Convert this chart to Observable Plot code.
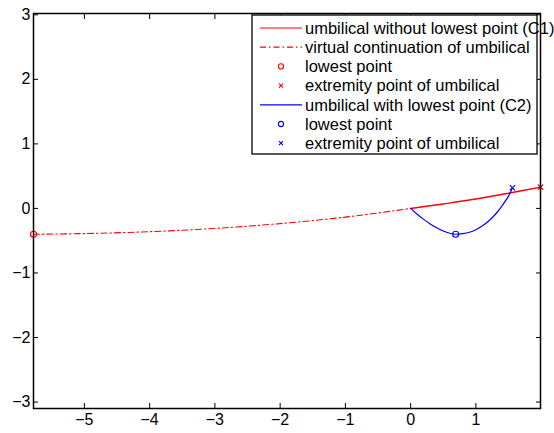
<!DOCTYPE html>
<html>
<head>
<meta charset="utf-8">
<script src="https://cdn.jsdelivr.net/npm/d3@7"></script>
<script src="https://cdn.jsdelivr.net/npm/@observablehq/plot@0.6"></script>
<style>
  html, body { margin: 0; padding: 0; background: white; }
</style>
</head>
<body>
<div id="chart"></div>
<script>
// ---- data ----
const xTicks = [-5, -4, -3, -2, -1, 0, 1];
const yTicks = [-3, -2, -1, 0, 1, 2, 3];

// C1: umbilical without lowest point (solid red)
const c1X = [0, 0.5, 1, 1.5, 1.99];
const c1Y = [0, 0.07, 0.145, 0.235, 0.33];
// virtual continuation of umbilical (dash-dot red)
const virtX = [-5.78, -5, -4, -3, -2, -1, -0.5, 0];
const virtY = [-0.40, -0.39, -0.36, -0.31, -0.235, -0.135, -0.07, 0];
// C1 markers
const c1LowX = [-5.78], c1LowY = [-0.40];
const c1ExtX = [1.99], c1ExtY = [0.33];

// C2: umbilical with lowest point (blue)
const c2X = [0, 0.1, 0.2, 0.3, 0.4, 0.5, 0.6, 0.69, 0.8, 0.9, 1.0, 1.1, 1.2, 1.3, 1.4, 1.5, 1.56];
const c2Y = [0, -0.09, -0.17, -0.24, -0.3, -0.35, -0.385, -0.40, -0.39, -0.37, -0.33, -0.27, -0.19, -0.09, 0.04, 0.19, 0.32];
const c2LowX = [0.69], c2LowY = [-0.40];
const c2ExtX = [1.56], c2ExtY = [0.32];

const legendLabels = [
  "umbilical without lowest point (C1)",
  "virtual continuation of umbilical",
  "lowest point",
  "extremity point of umbilical",
  "umbilical with lowest point (C2)",
  "lowest point",
  "extremity point of umbilical"
];

const RED = "#ff0000", BLUE = "#0000ff";
const zip = (xs, ys) => xs.map((x, i) => ({x, y: ys[i]}));
const fmt = d => String(d).replace("-", "\u2212");

const plot = Plot.plot({
  width: 554,
  height: 433,
  marginLeft: 33,
  marginRight: 14,
  marginTop: 13,
  marginBottom: 25,
  style: {fontFamily: "'Liberation Sans', Arial, sans-serif", fontSize: "16px", background: "white", color: "black"},
  x: {domain: [-5.78, 1.99], label: null},
  y: {domain: [-3.1, 3.02], label: null},
  marks: [
    Plot.line(zip(virtX, virtY), {x: "x", y: "y", stroke: RED, strokeWidth: 1.1, strokeDasharray: "6,3,1.5,3", curve: "catmull-rom"}),
    Plot.line(zip(c1X, c1Y), {x: "x", y: "y", stroke: RED, strokeWidth: 1.5, curve: "catmull-rom"}),
    Plot.line(zip(c2X, c2Y), {x: "x", y: "y", stroke: BLUE, strokeWidth: 1.2, curve: "catmull-rom"}),
    Plot.dot(zip(c1LowX, c1LowY), {x: "x", y: "y", r: 3, stroke: RED, fill: "none", strokeWidth: 1.2}),
    Plot.dot(zip(c1ExtX, c1ExtY), {x: "x", y: "y", r: 2.5, symbol: "times", stroke: RED, strokeWidth: 1.2}),
    Plot.dot(zip(c2LowX, c2LowY), {x: "x", y: "y", r: 3, stroke: BLUE, fill: "none", strokeWidth: 1.2}),
    Plot.dot(zip(c2ExtX, c2ExtY), {x: "x", y: "y", r: 2.5, symbol: "times", stroke: BLUE, strokeWidth: 1.2}),
    Plot.axisX(xTicks, {anchor: "bottom", tickSize: 0, tickPadding: 5, fontSize: 16, tickFormat: fmt}),
    Plot.axisX(xTicks, {anchor: "bottom", tickSize: -5, tickFormat: () => ""}),
    Plot.axisX(xTicks, {anchor: "top", tickSize: -5, tickFormat: () => ""}),
    Plot.axisY(yTicks, {anchor: "left", tickSize: 0, tickPadding: 3, fontSize: 16, tickFormat: fmt}),
    Plot.axisY(yTicks, {anchor: "left", tickSize: -5, tickFormat: () => ""}),
    Plot.axisY(yTicks, {anchor: "right", tickSize: -5, tickFormat: () => ""}),
    Plot.frame({stroke: "black", strokeWidth: 1.5})
  ]
});

// legend box inside the axes (top-right), drawn on the same SVG
const svg = d3.select(plot);
const lg = svg.append("g")
  .attr("font-family", "'Liberation Sans', Arial, sans-serif")
  .attr("font-size", 16.5)
  .attr("text-anchor", "start");
const bx = 252, by = 15, bw = 285, bh = 139, rowH = 19.2, row0 = 28;
lg.append("rect").attr("x", bx).attr("y", by).attr("width", bw).attr("height", bh)
  .attr("fill", "white").attr("stroke", "black").attr("stroke-width", 1.3);
const kinds = [
  {type: "line", color: RED, dash: null},
  {type: "line", color: RED, dash: "6,3,1.5,3"},
  {type: "circle", color: RED},
  {type: "times", color: RED},
  {type: "line", color: BLUE, dash: null},
  {type: "circle", color: BLUE},
  {type: "times", color: BLUE}
];
legendLabels.forEach((label, i) => {
  const cy = row0 + i * rowH;
  const k = kinds[i];
  if (k.type === "line") {
    lg.append("line").attr("x1", 260).attr("x2", 302).attr("y1", cy).attr("y2", cy)
      .attr("stroke", k.color).attr("stroke-width", 1.2).attr("stroke-dasharray", k.dash);
  } else if (k.type === "circle") {
    lg.append("circle").attr("cx", 281).attr("cy", cy).attr("r", 2.6)
      .attr("fill", "none").attr("stroke", k.color).attr("stroke-width", 1.1);
  } else {
    const s = 2;
    lg.append("path").attr("d", `M${281 - s},${cy - s}L${281 + s},${cy + s}M${281 - s},${cy + s}L${281 + s},${cy - s}`)
      .attr("stroke", k.color).attr("stroke-width", 1.1);
  }
  lg.append("text").attr("x", 305).attr("y", cy).attr("dy", "0.35em").attr("fill", "black").text(label);
});

document.getElementById("chart").appendChild(plot);
</script>
</body>
</html>
